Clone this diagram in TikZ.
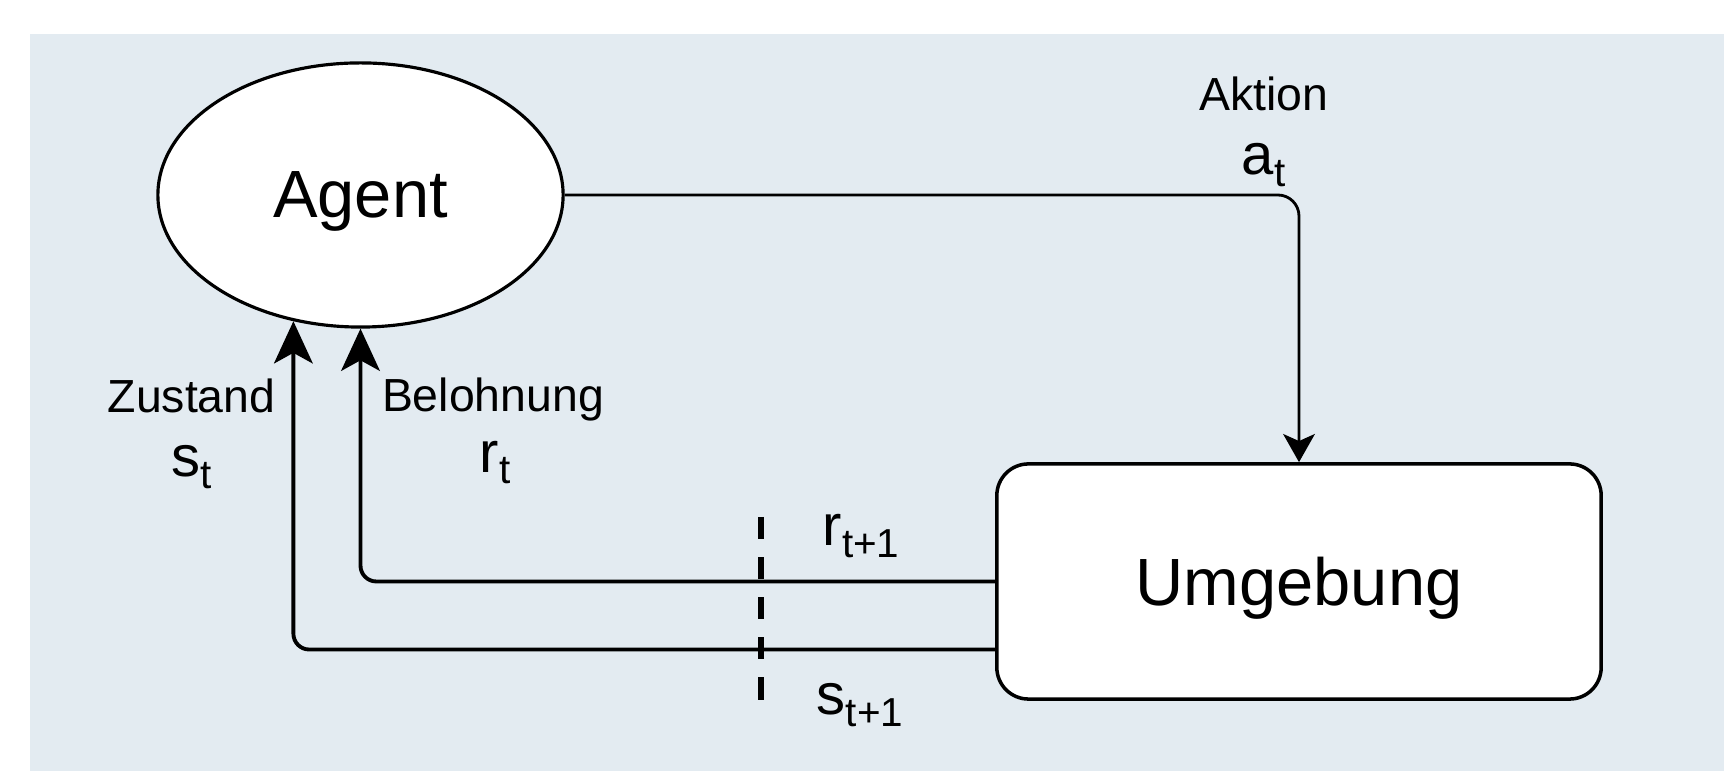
\documentclass[tikz,border=0pt]{standalone}
\usepackage{fontspec}
\setmainfont{Liberation Sans}
\usetikzlibrary{arrows.meta,shapes.geometric}
\definecolor{bgc}{RGB}{227,235,241}
\newcommand{\mvar}[2]{{\fontsize{16.5}{18}\selectfont #1}\raisebox{-3.2pt}{\fontsize{11.5}{13}\selectfont #2}}
\begin{document}
\begin{tikzpicture}[x=0.01cm,y=0.01cm,
  agentstyle/.style={ellipse, draw, line width=0.9pt, fill=white, minimum width=4.05cm, minimum height=2.64cm, inner sep=0pt, font=\fontsize{19}{22}\selectfont, text depth=0pt},
  envstyle/.style={rectangle, rounded corners=9pt, draw, line width=1pt, fill=white, minimum width=6.04cm, minimum height=2.35cm, inner sep=0pt, font=\fontsize{19}{22}\selectfont, text depth=0pt},
  wordlabel/.style={anchor=base, inner sep=0pt, font=\fontsize{13.2}{15}\selectfont},
  varlabel/.style={anchor=base, inner sep=0pt},
  fb/.style={line width=1.1pt, rounded corners=4.5pt, -{Stealth[length=12pt,width=11pt,inset=3pt]}},
  act/.style={line width=0.8pt, rounded corners=6pt, -{Stealth[length=8pt,width=9pt,inset=2pt]}},
  dashline/.style={line width=1.8pt, dash pattern=on 6.3pt off 5.1pt}
]
\useasboundingbox (0,0) rectangle (1724,-771);
\fill[bgc] (30,-34) rectangle (1724,-771);

\node[agentstyle] (agent) at (360.5,-195) {Agent};
\node[envstyle] (umg) at (1299,-581.5) {Umgebung};

\draw[act] (agent.east) -| (umg.north);
\draw[fb] (umg.west) -| (agent.south);
\draw[fb] ([yshift=-0.68cm]umg.west) -| (agent.242);

\coordinate (d1) at (761,-517);
\coordinate (d2) at (761,-700);
\draw[dashline] (d1) -- (d2);

\node[wordlabel] (aktion) at (1264,-110.7) {Aktion};
\node[varlabel] (at) at (1263.5,-175) {\mvar{a}{t}};
\node[wordlabel] (zustand) at (191.5,-412.7) {Zustand};
\node[varlabel] (st) at (192,-477) {\mvar{s}{t}};
\node[wordlabel] (belohnung) at (493,-411.7) {Belohnung};
\node[varlabel] (rt) at (495,-472.7) {\mvar{r}{t}};
\node[varlabel] (rt1) at (861,-546) {\mvar{r}{t+1}};
\node[varlabel] (st1) at (860,-715) {\mvar{s}{t+1}};
\end{tikzpicture}
\end{document}
